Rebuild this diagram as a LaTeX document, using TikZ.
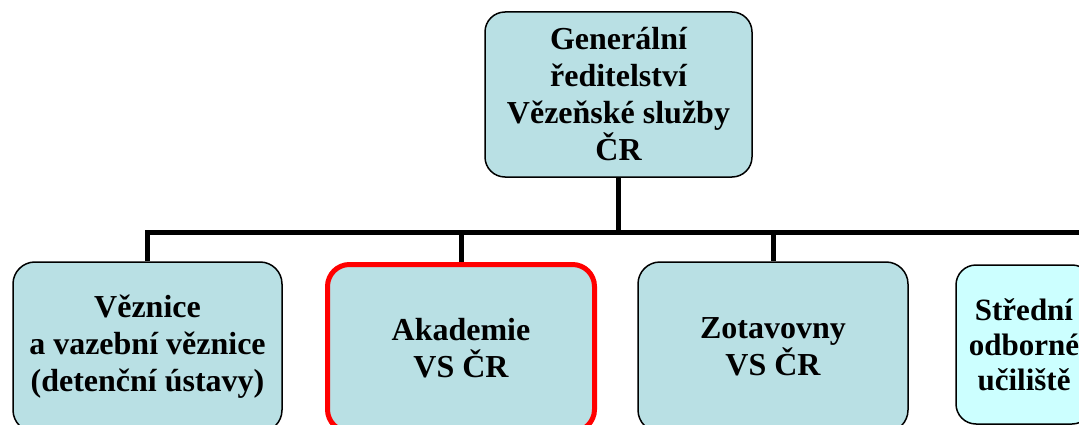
\documentclass[tikz,border=0pt]{standalone}
\usepackage{fontspec}
\setmainfont{Liberation Serif}
\usepackage{tikz}
\definecolor{boxblue}{RGB}{185,224,228}
\definecolor{boxcyan}{RGB}{204,255,255}
\definecolor{boxred}{RGB}{255,0,0}
\tikzset{
  orgbox/.style={draw=black, line width=1.5pt, fill=boxblue, rounded corners=22pt,
    inner sep=0pt, align=center, font=\fontsize{32}{37}\selectfont\bfseries},
  link/.style={line width=5pt, black}
}

\begin{document}
\begin{tikzpicture}[x=1pt, y=-1pt]
            % Frame
            \fill[white] (0,0) rectangle (1079,425);
            \useasboundingbox (0,0) rectangle (1079,425);
            \clip (0,0) rectangle (1079,425);

            % Boxes
            \node[orgbox, rounded corners=20pt, minimum width=267pt, minimum height=165pt]
                (gr) at (618.5,94.5) {Generální\\ředitelství\\Vězeňské služby\\ČR};
            \node[orgbox, minimum width=269pt, minimum height=170pt]
                (vez) at (147.5,347) {Věznice\\a vazební věznice\\(detenční ústavy)};
            \node[orgbox, draw=boxred, line width=5pt, minimum width=267pt, minimum height=167pt]
                (akad) at (461,348) {Akademie\\VS ČR};
            \node[orgbox, minimum width=270pt, minimum height=170pt]
                (zot) at (773,347) {Zotavovny\\VS ČR};
            \node[orgbox, fill=boxcyan, rounded corners=20pt, minimum width=136pt, minimum height=159pt,
                font=\fontsize{31}{35}\selectfont\bfseries]
                (sou) at (1024,344.5) {Střední\\odborné\\učiliště};

            % Connectors
            \coordinate (busend) at (1090,232);
            \draw[link] (vez.north) |- (busend);
            \draw[link] (gr.south) -- (gr.south |- busend);
            \draw[link] (akad.north) -- (akad.north |- busend);
            \draw[link] (zot.north) -- (zot.north |- busend);
\end{tikzpicture}
\end{document}
